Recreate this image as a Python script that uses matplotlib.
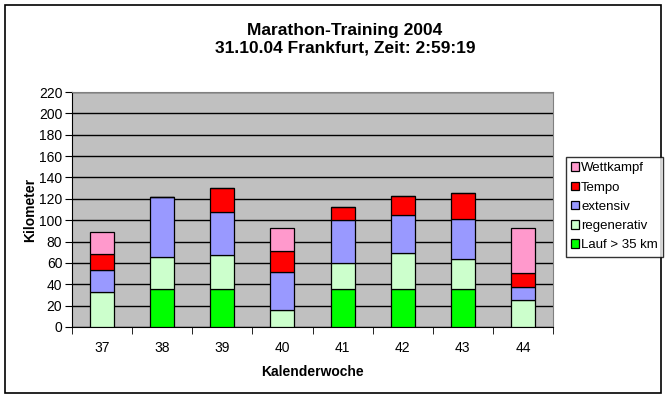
import matplotlib.pyplot as plt
from matplotlib.patches import Rectangle
import numpy as np

# Kalenderwochen
weeks = ['37', '38', '39', '40', '41', '42', '43', '44']

# km per category
lauf35 = [0, 35.5, 35.5, 0, 35.5, 35.5, 35.5, 0]
regenerativ = [33, 30, 32, 16, 24.7, 33.8, 28.2, 25.3]
extensiv = [20, 56, 40, 35.5, 40, 35.2, 37.1, 12.1]
tempo = [15, 0, 22.5, 19.6, 12, 18.1, 24.6, 13.1]
wettkampf = [21, 0, 0, 21.6, 0, 0, 0, 42.2]

series = [('Lauf > 35 km', lauf35, '#00FF00'),
          ('regenerativ', regenerativ, '#CCFFCC'),
          ('extensiv', extensiv, '#9999FF'),
          ('Tempo', tempo, '#FF0000'),
          ('Wettkampf', wettkampf, '#FF99CC')]

plt.rcParams['font.family'] = ['Liberation Sans', 'DejaVu Sans']

fig = plt.figure(figsize=(6.69, 3.97), dpi=100)
fig.patch.set_facecolor('white')
fig.patches.append(Rectangle((5 / 669, 4 / 397), 656 / 669, 388 / 397,
                             transform=fig.transFigure, fill=False,
                             edgecolor='black', linewidth=1.2))

ax = fig.add_axes([72 / 669, 1 - 327 / 397, 481 / 669, 235 / 397])
ax.set_facecolor('#C0C0C0')

x = np.arange(len(weeks))
bottom = np.zeros(len(weeks))
handles = []
for name, vals, col in series:
    vals = np.array(vals, dtype=float)
    h = ax.bar(x, vals, width=0.4, bottom=bottom, color=col,
               edgecolor='black', linewidth=0.9, label=name, zorder=3)
    bottom += vals
    handles.append(h)

ax.set_xlim(-0.5, len(weeks) - 0.5)
ax.set_ylim(0, 220)
ax.set_yticks(range(0, 221, 20))
ax.yaxis.grid(True, color='black', linewidth=1.0, zorder=1)
ax.set_axisbelow(True)

ax.set_xticks(x)
ax.set_xticklabels(weeks)
ax.set_xticks(np.arange(-0.5, len(weeks) + 0.5, 1), minor=True)
ax.tick_params(axis='x', which='major', length=0, pad=10, labelsize=10)
ax.tick_params(axis='x', which='minor', length=5, direction='out', color='black')
ax.tick_params(axis='y', length=5, direction='out', labelsize=10, pad=2)

ax.spines['top'].set_color('#808080')
ax.spines['right'].set_color('#808080')
ax.spines['left'].set_color('black')
ax.spines['bottom'].set_color('black')

ax.set_xlabel('Kalenderwoche', fontsize=10, fontweight='bold', labelpad=7)
ax.set_ylabel('Kilometer', fontsize=10, fontweight='bold', labelpad=1)

fig.text(345 / 669, 1 - 30 / 397, 'Marathon-Training 2004', ha='center',
         va='center', fontsize=12.5, fontweight='bold')
fig.text(345 / 669, 1 - 48 / 397, '31.10.04 Frankfurt, Zeit: 2:59:19',
         ha='center', va='center', fontsize=12.5, fontweight='bold')

leg = fig.legend(handles[::-1], [s[0] for s in series][::-1],
                 loc='upper left', bbox_to_anchor=(566 / 669, 1 - 157 / 397),
                 frameon=True, fancybox=False, edgecolor='black',
                 fontsize=9.5, handlelength=0.6, handleheight=0.6,
                 handletextpad=0.15, borderpad=0.4, labelspacing=0.55,
                 borderaxespad=0)
leg.get_frame().set_linewidth(1.0)

plt.savefig('out.png', dpi=100)
